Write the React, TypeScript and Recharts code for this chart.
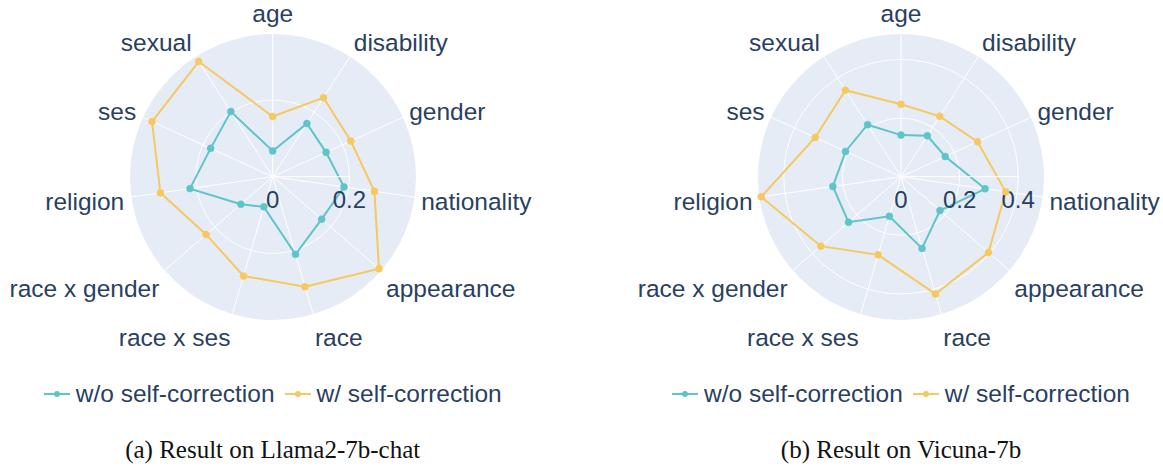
import React from 'react';
import { RadarChart, Radar, PolarGrid, PolarAngleAxis, PolarRadiusAxis, Legend } from 'recharts';

const categories = ['age', 'disability', 'gender', 'nationality', 'appearance', 'race', 'race x ses', 'race x gender', 'religion', 'ses', 'sexual'];

const llamaWithout = [0.067, 0.165, 0.153, 0.188, 0.169, 0.211, 0.082, 0.110, 0.218, 0.178, 0.202];
const llamaWith = [0.157, 0.245, 0.224, 0.268, 0.367, 0.299, 0.270, 0.230, 0.296, 0.346, 0.357];
const vicunaWithout = [0.142, 0.166, 0.166, 0.290, 0.176, 0.255, 0.141, 0.237, 0.235, 0.208, 0.211];
const vicunaWith = [0.247, 0.245, 0.287, 0.361, 0.395, 0.417, 0.278, 0.362, 0.482, 0.322, 0.351];

const llamaTicks = [0, 0.2];
const vicunaTicks = [0, 0.2, 0.4];

const seriesNames = ['w/o self-correction', 'w/ self-correction'];

const TEAL = '#5fc4ca';
const YELLOW = '#f6c85f';
const TEXT = '#2a3f5f';
const SANS = '"Liberation Sans", Arial, sans-serif';
const TICK = 8;

const buildRows = (wo: number[], w: number[]) =>
  categories.map((c, i) => ({ category: c, wo: wo[i], w: w[i] }));

// plotly-ish placement of the angular labels
function AngleTick(props: any) {
  const { x, y, payload } = props;
  const rad = (payload.coordinate * Math.PI) / 180;
  const cos = Math.cos(rad);
  const sin = Math.sin(rad);
  const bx = x - TICK * cos;
  const by = y + TICK * sin;
  const pad = 7;
  const fs = 24;
  const anchor = Math.abs(cos) < 0.1 ? 'middle' : cos > 0 ? 'start' : 'end';
  const ff = sin > 0 ? 0.2 : 1;
  const tx = bx + cos * pad;
  const ty = by - sin * (pad + fs * ff) + Math.abs(cos) * fs * 0.35;
  return (
    <text x={tx} y={ty} textAnchor={anchor} fill={TEXT} fontSize={24.5} fontFamily={SANS}>
      {payload.value}
    </text>
  );
}

function RadiusTick(props: any) {
  const { x, y, payload } = props;
  return (
    <text x={x} y={y + 31.5} textAnchor="middle" fill={TEXT} fontSize={24} fontFamily={SANS}>
      {String(payload.value)}
    </text>
  );
}

function LegendContent(props: any) {
  const items = [...(props.payload || [])].sort(
    (a: any, b: any) => seriesNames.indexOf(a.value) - seriesNames.indexOf(b.value),
  );
  return (
    <div style={{ display: 'flex', justifyContent: 'center', alignItems: 'center', fontFamily: SANS, fontSize: 24.5, color: TEXT }}>
      {items.map((it: any, i: number) => (
        <div key={i} style={{ display: 'flex', alignItems: 'center', marginRight: i === 0 ? 10 : 0 }}>
          <svg width={26} height={10} style={{ display: 'block' }}>
            <line x1={0} y1={5} x2={26} y2={5} stroke={it.color} strokeWidth={2} />
            <circle cx={13} cy={5} r={3} fill={it.color} />
          </svg>
          <span style={{ marginLeft: 6 }}>{it.value}</span>
        </div>
      ))}
    </div>
  );
}

interface PanelProps {
  left: number;
  cx: number;
  maxValue: number;
  ticks: number[];
  wo: number[];
  w: number[];
  caption: string;
}

const CY = 176.7;
const R = 143;

function Panel({ left, cx, maxValue, ticks, wo, w, caption }: PanelProps) {
  const rows = buildRows(wo, w);
  return (
    <div style={{ position: 'absolute', left, top: 0, width: 581, height: 469 }}>
      <div
        style={{
          position: 'absolute',
          left: cx - R,
          top: CY - R,
          width: 2 * R,
          height: 2 * R,
          borderRadius: '50%',
          background: '#e5ecf6',
        }}
      />
      <div style={{ position: 'absolute', left: 0, top: 0 }}>
        <RadarChart
          width={581}
          height={420}
          data={rows}
          cx={cx}
          cy={CY}
          outerRadius={R}
          margin={{ top: 0, right: 0, bottom: 0, left: 0 }}
        >
          <PolarGrid gridType="circle" stroke="#ffffff" strokeWidth={1} />
          <PolarAngleAxis dataKey="category" tick={<AngleTick />} tickLine={false} axisLine={false} tickSize={TICK} />
          <PolarRadiusAxis
            angle={0}
            type="number"
            domain={[0, maxValue]}
            ticks={ticks as any}
            tick={<RadiusTick />}
            tickLine={false}
            axisLine={{ stroke: '#ffffff', strokeWidth: 1 }}
          />
          <Radar
            name={seriesNames[0]}
            dataKey="wo"
            stroke={TEAL}
            strokeWidth={2}
            fill="none"
            fillOpacity={0}
            dot={{ r: 3.5, fill: TEAL, stroke: TEAL, strokeWidth: 0.5, fillOpacity: 1 }}
            isAnimationActive={false}
          />
          <Radar
            name={seriesNames[1]}
            dataKey="w"
            stroke={YELLOW}
            strokeWidth={2}
            fill="none"
            fillOpacity={0}
            dot={{ r: 3.5, fill: YELLOW, stroke: YELLOW, strokeWidth: 0.5, fillOpacity: 1 }}
            isAnimationActive={false}
          />
          <Legend
            content={<LegendContent />}
            wrapperStyle={{ left: cx - 290, width: 580, top: 379.5, bottom: 'auto' }}
          />
        </RadarChart>
      </div>
      <div
        style={{
          position: 'absolute',
          left: cx - 250,
          width: 500,
          top: 436,
          textAlign: 'center',
          fontFamily: '"Liberation Serif", "Times New Roman", serif',
          fontSize: 25,
          color: '#111',
          whiteSpace: 'nowrap',
        }}
      >
        {caption}
      </div>
    </div>
  );
}

export default function App() {
  return (
    <div style={{ position: 'relative', width: 1163, height: 469, background: '#fff', overflow: 'hidden' }}>
      <style>{'body{margin:0}'}</style>
      <Panel left={0} cx={272.7} maxValue={0.373} ticks={llamaTicks} wo={llamaWithout} w={llamaWith} caption="(a) Result on Llama2-7b-chat" />
      <Panel left={581} cx={320} maxValue={0.488} ticks={vicunaTicks} wo={vicunaWithout} w={vicunaWith} caption="(b) Result on Vicuna-7b" />
    </div>
  );
}
